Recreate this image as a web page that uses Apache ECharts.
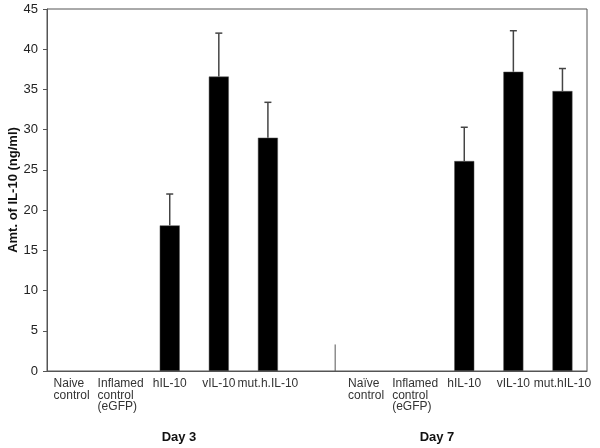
<!DOCTYPE html>
<html><head><meta charset="utf-8">
<script src="https://cdn.jsdelivr.net/npm/echarts@6/dist/echarts.min.js"></script>
<style>html,body{margin:0;padding:0;background:#fff}#c{width:600px;height:448px}</style>
</head><body><div id="c"></div>
<script>
const categories = ['Naive\ncontrol','Inflamed\ncontrol\n(eGFP)','hIL-10','vIL-10','mut.h.IL-10','',
                    'Naïve\ncontrol','Inflamed\ncontrol\n(eGFP)','hIL-10','vIL-10','mut.hIL-10'];
const means  = [null, null, 18.1, 36.6, 29.0, null, null, null, 26.1, 37.2, 34.8];
const errors = [null, null, 3.9, 5.4, 4.4, null, null, null, 4.2, 5.1, 2.8];
const separatorValue = 3.3;
const separatorIndex = 5;
const groupLabels = ['Day 3', 'Day 7'];
const yTicks = {min: 0, max: 45, interval: 5};

const chart = echarts.init(document.getElementById('c'), null, {renderer: 'canvas'});
const errData = means.map((m, i) => m == null ? null : [i, m, m + errors[i]]).filter(d => d);
const axisColor = '#555';
const font = 'Liberation Sans';
chart.setOption({
  animation: false,
  grid: {left: 47, right: 13, top: 9, bottom: 77, show: true, borderColor: axisColor, borderWidth: 1,
         containLabel: false, outerBoundsMode: 'none'},
  xAxis: {
    type: 'category', data: categories,
    axisLine: {lineStyle: {color: axisColor}}, axisTick: {show: false},
    axisLabel: {interval: 0, margin: 7, color: '#333', fontSize: 12, lineHeight: 11.5, fontFamily: font,
                formatter: v => v.split('\n').map(s => '{l|' + s + '}').join('\n'),
                rich: {l: {align: 'left', fontSize: 12, lineHeight: 11.5, fontFamily: font, color: '#333'}}}
  },
  yAxis: {
    type: 'value', min: yTicks.min, max: yTicks.max, interval: yTicks.interval,
    name: 'Amt. of IL-10 (ng/ml)', nameLocation: 'middle', nameGap: 27, nameMoveOverlap: false,
    nameTextStyle: {fontSize: 13, fontWeight: 'bold', color: '#111', fontFamily: font},
    axisLine: {show: true, lineStyle: {color: axisColor}},
    axisTick: {show: true, length: 4, lineStyle: {color: axisColor}},
    splitLine: {show: false},
    axisLabel: {color: '#222', fontSize: 13, margin: 9, fontFamily: font}
  },
  graphic: [
    {type: 'text', x: 179, y: 437, style: {text: groupLabels[0], font: 'bold 13px "Liberation Sans"', fill: '#111', align: 'center', verticalAlign: 'middle'}},
    {type: 'text', x: 437, y: 437, style: {text: groupLabels[1], font: 'bold 13px "Liberation Sans"', fill: '#111', align: 'center', verticalAlign: 'middle'}}
  ],
  series: [
    {type: 'bar', data: means, barWidth: 20,
     itemStyle: {color: '#000', borderColor: '#555', borderWidth: 0.5}},
    {type: 'custom', data: errData, z: 3,
     renderItem: function (params, api) {
       const base = api.coord([api.value(0), api.value(1)]);
       const top = api.coord([api.value(0), api.value(2)]);
       const cap = 3.5;
       const style = {stroke: '#444', lineWidth: 1.5};
       return {type: 'group', children: [
         {type: 'line', shape: {x1: base[0], y1: base[1], x2: top[0], y2: top[1]}, style: style},
         {type: 'line', shape: {x1: top[0] - cap, y1: top[1], x2: top[0] + cap, y2: top[1]}, style: style}
       ]};
     }},
    {type: 'custom', data: [[separatorIndex, separatorValue]], z: 3,
     renderItem: function (params, api) {
       const p0 = api.coord([api.value(0), 0]);
       const p1 = api.coord([api.value(0), api.value(1)]);
       const dx = api.size([1, 0])[0] * 0.37;
       return {type: 'line', shape: {x1: p0[0] + dx, y1: p0[1], x2: p1[0] + dx, y2: p1[1]},
               style: {stroke: '#555', lineWidth: 1}};
     }}
  ]
});
</script></body></html>
